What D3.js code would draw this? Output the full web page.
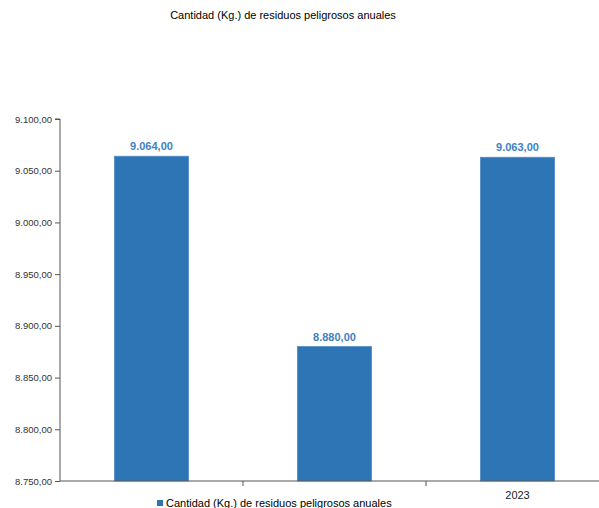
<!DOCTYPE html>
<html><head><meta charset="utf-8">
<script src="https://cdn.jsdelivr.net/npm/d3@7"></script>
<style>body{margin:0;background:#fff;overflow:hidden}svg{display:block}</style>
</head><body>
<script>
const title = "Cantidad (Kg.) de residuos peligrosos anuales";
const seriesName = "Cantidad (Kg.) de residuos peligrosos anuales";
const categories = ["2021", "2022", "2023"];
const categoryLabels = ["", "", "2023"];
const values = [9064, 8880, 9063];
const valueLabels = ["9.064,00", "8.880,00", "9.063,00"];
const yTicks = [8750, 8800, 8850, 8900, 8950, 9000, 9050, 9100];
const yTickLabels = ["8.750,00","8.800,00","8.850,00","8.900,00","8.950,00","9.000,00","9.050,00","9.100,00"];

(function(){
const W = 599, H = 508;
const svg = d3.select("body").append("svg").attr("width", W).attr("height", H)
  .style("font-family", "'Liberation Sans', Arial, sans-serif");

const left = 60, plotTop = 119, bottom = 481, bandW = 183;
const x = d3.scaleBand().domain(categories).range([left, left + bandW * categories.length]).paddingInner(0).paddingOuter(0);
const y = d3.scaleLinear().domain([8750, 9100]).range([bottom, plotTop]);

svg.append("text").attr("x", 283).attr("y", 19).attr("text-anchor", "middle")
  .attr("font-size", 11).attr("fill", "#000").text(title);

// bars
const barW = 74;
svg.selectAll("rect.bar").data(values).enter().append("rect")
  .attr("x", (d, i) => x(categories[i]) + x.bandwidth() / 2 - barW / 2)
  .attr("y", d => y(d))
  .attr("width", barW)
  .attr("height", d => bottom - y(d))
  .attr("fill", "#2e75b6")
  .attr("stroke", "#4f8cc6").attr("stroke-width", 0.8);

// value labels
svg.selectAll("text.vl").data(values).enter().append("text")
  .attr("x", (d, i) => x(categories[i]) + x.bandwidth() / 2)
  .attr("y", d => y(d) - 6)
  .attr("text-anchor", "middle").attr("font-size", 11).attr("font-weight", "bold")
  .attr("fill", "#3f7fc4").text((d, i) => valueLabels[i]);

// y axis
const yAxis = d3.axisLeft(y).tickValues(yTicks).tickSize(5).tickFormat((d, i) => yTickLabels[i]);
const gy = svg.append("g").attr("transform", `translate(${left},0)`).call(yAxis);
gy.select(".domain").attr("stroke", "#555").attr("d", `M-5,${plotTop}H0V${bottom}`);
gy.selectAll(".tick line").attr("stroke", "#555");
gy.selectAll(".tick text").attr("font-size", 9.5).attr("fill", "#333")
  .attr("font-family", "'Liberation Sans', Arial, sans-serif").attr("x", -8);

// x axis
const xAxis = d3.axisBottom(x).tickSize(0).tickFormat((d, i) => categoryLabels[i]);
const gx = svg.append("g").attr("transform", `translate(0,${bottom})`).call(xAxis);
gx.select(".domain").attr("stroke", "#555").attr("d", `M${left},0H${W}`);
gx.selectAll(".tick text").attr("font-size", 11).attr("fill", "#222").attr("dy", "1.35em")
  .attr("font-family", "'Liberation Sans', Arial, sans-serif");
gx.selectAll("line.sep").data(categories.slice(1)).enter().append("line")
  .attr("x1", d => x(d)).attr("x2", d => x(d)).attr("y1", 0).attr("y2", 5).attr("stroke", "#555");

// legend
svg.append("rect").attr("x", 157).attr("y", 500).attr("width", 6).attr("height", 6).attr("fill", "#2e75b6");
svg.append("text").attr("x", 166).attr("y", 507).attr("font-size", 11).attr("fill", "#000").text(seriesName);
})();
</script>
</body></html>
